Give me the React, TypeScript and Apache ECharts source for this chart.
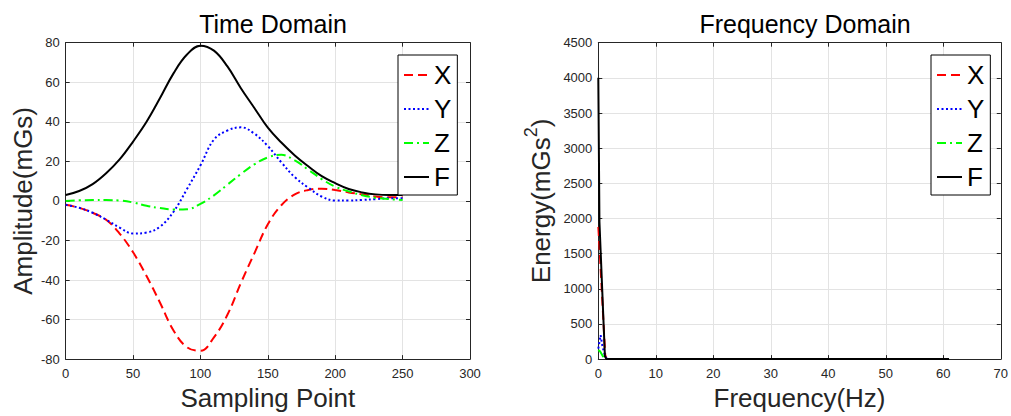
import React, { useEffect, useRef } from "react";
import * as echarts from "echarts";

// ---- Time domain data (sampling point vs amplitude, mGs) ----
const samples = [0, 10, 20, 30, 40, 50, 60, 70, 80, 90, 100, 110, 120, 130, 140, 150, 160, 170, 180, 190, 200, 210, 220, 230, 240, 250];
const timeX = [-2, -3.5, -6, -9.5, -16.5, -26, -38, -51.5, -65.5, -74, -75.8, -69, -57.6, -41.5, -26.5, -11.8, -2.2, 3.3, 5.5, 6.2, 5.5, 4.3, 3.3, 2.2, 1.8, 1.8];
const timeY = [-2, -3.5, -6, -9.5, -13.5, -16.5, -16, -13, -5.5, 6, 18, 31, 35.6, 37.2, 34, 27.7, 19.5, 12, 6.7, 2.2, 0.2, 0.2, 0.5, 0.9, 1.3, 1.3];
const timeZ = [0, 0.3, 0.4, 0.4, 0.2, -0.8, -2.5, -3.6, -4.3, -4.2, -1.5, 2.8, 8.2, 13.6, 18.5, 22, 23.3, 20.5, 15.8, 11, 7.2, 4.8, 2.9, 1.6, 0.9, 0.4];
const timeF = [3, 5, 8.5, 14, 21, 30, 40, 52, 64.5, 74, 78.5, 76, 68, 57, 47, 37, 29.5, 23, 17.5, 12.5, 9, 6, 4.3, 3.3, 3, 3];

// ---- Frequency domain data (Hz vs energy, mGs^2) ----
const freqX = [0, 0.2, 1.2, 1.45, 61];
const energyX = [1880, 1600, 60, 0, 0];
const freqY = [0, 0.4, 0.75, 1.2, 1.5, 61];
const energyY = [150, 340, 170, 40, 0, 0];
const freqZ = [0, 0.3, 0.8, 1.3, 61];
const energyZ = [130, 110, 40, 0, 0];
const freqF = [0, 0.2, 1.15, 1.4, 61];
const energyF = [4000, 1950, 40, 0, 0];

const seriesNames = ["X", "Y", "Z", "F"];

const FONT = "'Liberation Sans', Arial, Helvetica, sans-serif";
const AX = "#262626";
const GRID = "#e3e3e3";

const pair = (xs: number[], ys: number[]) => xs.map((x, i) => [x, ys[i]]);

const lineStyles: any = {
  X: { color: "#ff0000", width: 2, type: [9, 5] },
  Y: { color: "#0000ff", width: 2, type: [2, 2.5] },
  Z: { color: "#00ff00", width: 2, type: [9, 4, 2, 4] },
  F: { color: "#000000", width: 2, type: "solid" },
};

const axisLineStyle = { show: true, onZero: false, lineStyle: { color: AX, width: 1 } };

function mainX(gridIndex: number, min: number, max: number, interval: number, name: string, nameGap: number) {
  return {
    type: "value",
    gridIndex,
    min,
    max,
    interval,
    position: "bottom",
    name,
    nameLocation: "middle",
    nameGap,
    nameTextStyle: { fontSize: 26, color: AX, fontFamily: FONT },
    axisLine: axisLineStyle,
    axisTick: { show: true, inside: true, length: 4, lineStyle: { color: AX } },
    axisLabel: { fontSize: 13, color: AX, fontFamily: FONT, margin: 8, formatter: (v: number) => String(v) },
    splitLine: { show: true, lineStyle: { color: GRID, width: 1 } },
  };
}

function mainY(gridIndex: number, min: number, max: number, interval: number, name: any, nameGap: number, rich?: any) {
  return {
    type: "value",
    gridIndex,
    min,
    max,
    interval,
    position: "left",
    name,
    nameLocation: "middle",
    nameGap,
    nameTextStyle: { fontSize: 26, color: AX, fontFamily: FONT, rich },
    axisLine: axisLineStyle,
    axisTick: { show: true, inside: true, length: 4, lineStyle: { color: AX } },
    axisLabel: { fontSize: 13, color: AX, fontFamily: FONT, margin: 6, formatter: (v: number) => String(v) },
    splitLine: { show: true, lineStyle: { color: GRID, width: 1 } },
  };
}

function ghost(kind: "x" | "y", gridIndex: number, min: number, max: number, interval: number) {
  return {
    type: "value",
    gridIndex,
    min,
    max,
    interval,
    position: kind === "x" ? "top" : "right",
    axisLine: axisLineStyle,
    axisTick: { show: true, inside: true, length: 4, lineStyle: { color: AX } },
    axisLabel: { show: false },
    splitLine: { show: false },
  };
}

function legendAt(left: number, top: number) {
  return {
    data: seriesNames,
    left,
    top,
    orient: "vertical",
    backgroundColor: "#ffffff",
    borderColor: "#000000",
    borderWidth: 1,
    padding: [7, 6, 5, 5],
    itemGap: 8,
    itemWidth: 25,
    itemHeight: 14,
    itemStyle: { opacity: 0 },
    textStyle: { fontSize: 26, color: "#000", fontFamily: FONT },
    selectedMode: false,
  };
}

export default function App() {
  const ref = useRef<HTMLDivElement>(null);

  useEffect(() => {
    if (!ref.current) return;
    const chart = echarts.init(ref.current, undefined, { renderer: "svg" });

    const timeData: any = { X: timeX, Y: timeY, Z: timeZ, F: timeF };
    const freqData: any = {
      X: pair(freqX, energyX),
      Y: pair(freqY, energyY),
      Z: pair(freqZ, energyZ),
      F: pair(freqF, energyF),
    };

    const series: any[] = [];
    seriesNames.forEach((n) => {
      series.push({
        name: n,
        type: "line",
        xAxisIndex: 0,
        yAxisIndex: 0,
        data: pair(samples, timeData[n]),
        smooth: 0.4,
        symbol: "none",
        lineStyle: lineStyles[n],
        itemStyle: { color: lineStyles[n].color },
        z: 3,
      });
    });
    seriesNames.forEach((n) => {
      series.push({
        name: n,
        type: "line",
        xAxisIndex: 2,
        yAxisIndex: 2,
        data: freqData[n],
        symbol: "none",
        lineStyle: lineStyles[n],
        itemStyle: { color: lineStyles[n].color },
        z: 3,
      });
    });

    const option: any = {
      animation: false,
      backgroundColor: "#ffffff",
      textStyle: { fontFamily: FONT },
      title: [
        {
          text: "Time Domain",
          left: 268,
          top: 6,
          textAlign: "center",
          textStyle: { fontSize: 25, fontWeight: "normal", color: "#000", fontFamily: FONT },
        },
        {
          text: "Frequency Domain",
          left: 800,
          top: 6,
          textAlign: "center",
          textStyle: { fontSize: 25, fontWeight: "normal", color: "#000", fontFamily: FONT },
        },
      ],
      legend: [legendAt(398, 55), legendAt(931, 55)],
      grid: [
        { left: 65.7, top: 42.7, width: 404.3, height: 316.6 },
        { left: 598.3, top: 42.7, width: 405, height: 316.6 },
      ],
      xAxis: [
        mainX(0, 0, 300, 50, "Sampling Point", 22),
        ghost("x", 0, 0, 300, 50),
        mainX(1, 0, 70, 10, "Frequency(Hz)", 22),
        ghost("x", 1, 0, 70, 10),
      ],
      yAxis: [
        mainY(0, -80, 80, 20, "Amplitude(mGs)", 30),
        ghost("y", 0, -80, 80, 20),
        mainY(1, 0, 4500, 500, "{a|Energy(mGs}{sup|2}{a|)}", 44, {
          a: { fontSize: 26, color: AX, fontFamily: FONT, lineHeight: 32, verticalAlign: "bottom" },
          sup: { fontSize: 18, color: AX, fontFamily: FONT, lineHeight: 32, verticalAlign: "top" },
        }),
        ghost("y", 1, 0, 4500, 500),
      ],
      series,
    };

    chart.setOption(option);
    return () => chart.dispose();
  }, []);

  return (
    <div
      ref={ref}
      style={{ position: "absolute", left: 0, top: 0, width: 1011, height: 416 }}
    />
  );
}
